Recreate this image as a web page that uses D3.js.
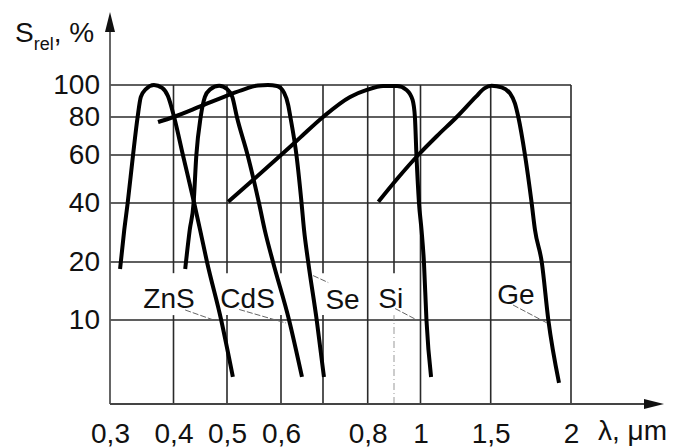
<!DOCTYPE html>
<html>
<head>
<meta charset="utf-8">
<script src="https://cdn.jsdelivr.net/npm/d3@7"></script>
<style>
	html, body { margin: 0; padding: 0; background: #fff; }
	svg { display: block; font-family: 'Liberation Sans', Arial, sans-serif; }
</style>
</head>
<body>
<svg id="chart" width="673" height="448"></svg>
<script>
// relative spectral sensitivity: lambda in um, S_rel in %
const znsLambda = [0.314, 0.320, 0.325, 0.333, 0.340, 0.345, 0.353, 0.366, 0.380, 0.390, 0.401, 0.416, 0.436, 0.447, 0.460, 0.488, 0.510]
const znsS = [18.4, 29.1, 40, 60, 80, 92, 97.2, 100, 98, 92.6, 80, 60, 40, 29.1, 20, 10, 5.06]

const cdsLambda = [0.420, 0.428, 0.435, 0.440, 0.448, 0.456, 0.466, 0.484, 0.500, 0.509, 0.517, 0.536, 0.557, 0.568, 0.584, 0.618, 0.648]
const cdsS = [18.4, 29.1, 40, 60, 80, 92, 97, 99.5, 97.2, 92, 80, 60, 40, 29.1, 20, 10, 5.06]

const seLambda = [0.373, 0.400, 0.447, 0.500, 0.531, 0.555, 0.574, 0.592, 0.607, 0.616, 0.621, 0.635, 0.647, 0.653, 0.663, 0.684, 0.702]
const seS = [77, 80, 86.1, 92.9, 97.2, 99.7, 100, 99.3, 94.6, 87, 80, 60, 40, 29.1, 20, 10, 5.06]

const siLambda = [0.502, 0.550, 0.600, 0.643, 0.700, 0.759, 0.798, 0.857, 0.911, 0.946, 0.969, 0.978, 0.984, 0.994, 1.006, 1.020, 1.035, 1.063]
const siS = [40.4, 49.4, 60, 68.3, 80, 92, 96.6, 99.3, 99.3, 96.6, 90.1, 80, 60, 40, 29.1, 20, 10, 5.06]

const geLambda = [0.839, 0.914, 0.991, 1.100, 1.233, 1.378, 1.446, 1.505, 1.560, 1.607, 1.636, 1.656, 1.696, 1.737, 1.758, 1.801, 1.844, 1.916]
const geS = [40.4, 49.4, 60, 69.3, 80, 92.2, 97.7, 99.5, 98.4, 94.4, 88, 80, 60, 40, 29.1, 20, 10, 4.71]

const names = ['ZnS', 'CdS', 'Se', 'Si', 'Ge']

// where each name sits and where its leader line goes (lambda, S)
const labelLambda = [0.392, 0.536, 0.742, 0.887, 1.642]
const labelS = [11.55, 11.55, 11.34, 11.55, 12.1]
const leaderFrom = [[0.420, 11.27], [0.521, 11.34], [0.675, 17.0], [0.904, 11.47], [1.625, 11.96]]
const leaderTo = [[0.470, 10.06], [0.611, 9.65], [0.711, 15.65], [0.986, 10.0], [1.842, 9.59]]

// grid / tick values
const xGrid = [0.3, 0.4, 0.5, 0.6, 0.7, 0.8, 0.9, 1, 1.5, 2]
const xLabelled = [0.3, 0.4, 0.5, 0.6, 0.8, 1, 1.5, 2]
const yGrid = [10, 20, 40, 60, 80, 100]
const yFloor = 3.66
const brokenLines = [0.4, 0.5, 0.6, 0.7, 0.9]   // vertical lines cut where the names sit
const gapS = [10.6, 17.5]

// the printed axes are hand drawn, so the log scales are pinned at each grid line
const xStops = [110, 173.5, 227, 281, 323, 367.7, 394, 420.5, 490.7, 571]
const yStops = [404, 320, 262, 203, 155, 117, 85]

const x = d3.scaleLog().domain(xGrid).range(xStops)
const y = d3.scaleLog().domain([yFloor].concat(yGrid)).range(yStops)

const svg = d3.select('#chart')
const fs = 28

const series = [
	[znsLambda, znsS], [cdsLambda, cdsS], [seLambda, seS], [siLambda, siS], [geLambda, geS]
].map(([l, s]) => l.map((v, i) => [v, s[i]]))

// grid
const grid = svg.append('g').attr('stroke', '#2a2a2a').attr('stroke-width', 1.6)
grid.selectAll('line.h')
	.data(yGrid)
	.enter()
	.append('line')
	.attr('x1', x(0.3)).attr('x2', x(2))
	.attr('y1', d => y(d)).attr('y2', d => y(d))

const vSegs = []
xGrid.slice(1).forEach(v => {
	if (brokenLines.includes(v)) {
		vSegs.push({ v, a: yFloor, b: gapS[0], dashed: v === 0.9 })
		vSegs.push({ v, a: gapS[1], b: 100 })
	} else {
		vSegs.push({ v, a: yFloor, b: 100 })
	}
})
grid.selectAll('line.v')
	.data(vSegs)
	.enter()
	.append('line')
	.attr('x1', d => x(d.v)).attr('x2', d => x(d.v))
	.attr('y1', d => y(d.a)).attr('y2', d => y(d.b))
	.attr('stroke', d => d.dashed ? '#999' : null)
	.attr('stroke-width', d => d.dashed ? 1 : null)
	.attr('stroke-dasharray', d => d.dashed ? '7,3,1,3' : null)

// axes with arrows
const x0 = x(0.3), y0 = y(yFloor)
svg.append('line')
	.attr('x1', x0).attr('x2', x0)
	.attr('y1', y0).attr('y2', y(100) - 60)
	.attr('stroke', '#555').attr('stroke-width', 1.8)
svg.append('path')
	.attr('d', `M${x0},${y(100) - 73}L${x0 - 5},${y(100) - 53}L${x0 + 5},${y(100) - 53}Z`)
	.attr('fill', '#111')
svg.append('line')
	.attr('x1', x0).attr('x2', x(2) + 80)
	.attr('y1', y0).attr('y2', y0)
	.attr('stroke', '#444').attr('stroke-width', 1.8)
svg.append('path')
	.attr('d', `M${x(2) + 93},${y0}L${x(2) + 73},${y0 - 5}L${x(2) + 73},${y0 + 5}Z`)
	.attr('fill', '#111')

// tick labels
const xAxis = svg.append('g')
	.attr('transform', `translate(0,${y0})`)
	.call(d3.axisBottom(x).tickValues(xLabelled).tickSize(0).tickPadding(19)
		.tickFormat(d => String(d).replace('.', ',')))
const yAxis = svg.append('g')
	.attr('transform', `translate(${x0},0)`)
	.call(d3.axisLeft(y).tickValues(yGrid).tickSize(0).tickPadding(10).tickFormat(d => d))
;[xAxis, yAxis].forEach(a => {
	a.select('.domain').remove()
	a.attr('font-family', null).attr('font-size', fs)
	a.selectAll('text').attr('fill', '#111')
})

// axis titles
const yt = svg.append('text')
	.attr('x', 15).attr('y', 42)
	.attr('font-size', fs).attr('fill', '#111')
yt.append('tspan').text('S')
yt.append('tspan').text('rel').attr('font-size', 18).attr('dy', 8)
yt.append('tspan').text(', %').attr('dy', -8)

svg.append('text')
	.attr('x', x(2) + 27).attr('y', y0 + 36)
	.attr('font-size', fs).attr('fill', '#111')
	.text('λ, μm')

// leader lines and names
svg.selectAll('line.leader')
	.data(names)
	.enter()
	.append('line')
	.attr('x1', (d, i) => x(leaderFrom[i][0])).attr('y1', (d, i) => y(leaderFrom[i][1]))
	.attr('x2', (d, i) => x(leaderTo[i][0])).attr('y2', (d, i) => y(leaderTo[i][1]))
	.attr('stroke', '#666').attr('stroke-width', 1)
	.attr('stroke-dasharray', '6,2')

svg.selectAll('text.name')
	.data(names)
	.enter()
	.append('text')
	.attr('x', (d, i) => x(labelLambda[i]))
	.attr('y', (d, i) => y(labelS[i]))
	.attr('text-anchor', 'middle')
	.attr('font-size', fs).attr('fill', '#111')
	.text(d => d)

// curves (x grows along every curve, so monotone-x keeps the legs straight)
const line = d3.line()
	.x(d => x(d[0]))
	.y(d => y(d[1]))
	.curve(d3.curveMonotoneX)

svg.selectAll('path.curve')
	.data(series)
	.enter()
	.append('path')
	.attr('fill', 'none')
	.attr('stroke', '#000')
	.attr('stroke-width', 4)
	.attr('stroke-linejoin', 'round')
	.attr('d', line)
</script>
</body>
</html>
